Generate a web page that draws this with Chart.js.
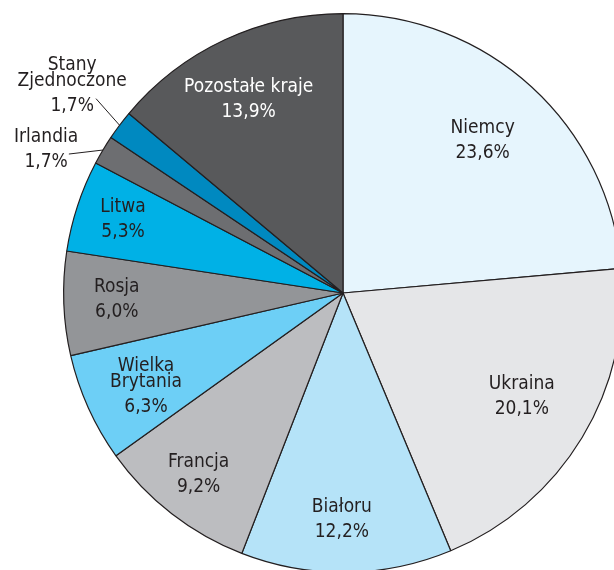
<!DOCTYPE html>
<html>
<head>
<meta charset="utf-8">
<script src="https://cdn.jsdelivr.net/npm/chart.js@4/dist/chart.umd.min.js"></script>
<style>
  html, body { margin: 0; padding: 0; background: #fff; overflow: hidden; }
  #wrap { position: absolute; left: 0; top: 0; width: 680px; height: 586px; }
</style>
</head>
<body>
<div id="wrap"><canvas id="pie" width="680" height="586"></canvas></div>
<script>
// ─── Data ─────────────────────────────────────────────────────────────────────
const countries = ["Niemcy", "Ukraina", "Białoru", "Francja", "Wielka Brytania",
                   "Rosja", "Litwa", "Irlandia", "Stany Zjednoczone", "Pozostałe kraje"];
const shares    = [23.6, 20.1, 12.2, 9.2, 6.3, 6.0, 5.3, 1.7, 1.7, 13.9];

// how each label is broken into lines
const labelLines = [["Niemcy"], ["Ukraina"], ["Białoru"], ["Francja"], ["Wielka", "Brytania"],
                    ["Rosja"], ["Litwa"], ["Irlandia"], ["Stany", "Zjednoczone"], ["Pozostałe kraje"]];

// ─── Styles ───────────────────────────────────────────────────────────────────
const colors = ["#e6f5fd", "#e5e6e8", "#b5e3f8", "#bcbdc0", "#6dcff6",
                "#939598", "#00b1e6", "#6d6e71", "#0089c0", "#58595b"];
const textColors = ["#231f20", "#231f20", "#231f20", "#231f20", "#231f20",
                    "#231f20", "#231f20", "#231f20", "#231f20", "#ffffff"];
// label distance (fraction of radius) and angle nudge (deg) from slice middle
const labelDist  = [0.74, 0.74, 0.81, 0.83, 0.78, 0.81, 0.83, 1.18, 1.22, 0.77];
const labelNudge = [0, -1, 1, 0.7, -1, 0.4, 0.3, -5, 0.5, -1];
// leader lines for the thin outside slices: [dist, nudge]
const leaders = { 7: [1.10, -3.9], 8: [1.125, 1.3] };

const FONT = '"Liberation Sans Narrow", "DejaVu Sans Condensed", "Open Sans", sans-serif';

const fmt = v => v.toFixed(1).replace(".", ",") + "%";

// ─── Label plugin ─────────────────────────────────────────────────────────────
const sliceLabels = {
  id: "sliceLabels",
  afterDatasetsDraw(chart) {
    const ctx = chart.ctx;
    const arcs = chart.getDatasetMeta(0).data;
    ctx.save();
    ctx.font = "19px " + FONT;
    ctx.textAlign = "center";
    ctx.textBaseline = "middle";
    arcs.forEach((arc, i) => {
      const { x, y, startAngle, endAngle, outerRadius } = arc.getProps(
        ["x", "y", "startAngle", "endAngle", "outerRadius"], true);
      const mid = (startAngle + endAngle) / 2;

      if (leaders[i]) {
        const [d, n] = leaders[i];
        const a2 = mid + n * Math.PI / 180;
        ctx.strokeStyle = "#231f20";
        ctx.lineWidth = 1;
        ctx.beginPath();
        ctx.moveTo(x + Math.cos(mid) * outerRadius, y + Math.sin(mid) * outerRadius);
        ctx.lineTo(x + Math.cos(a2) * outerRadius * d, y + Math.sin(a2) * outerRadius * d);
        ctx.stroke();
      }

      const a = mid + labelNudge[i] * Math.PI / 180;
      const lx = x + Math.cos(a) * outerRadius * labelDist[i];
      const ly = y + Math.sin(a) * outerRadius * labelDist[i];

      const lines = labelLines[i].concat([fmt(shares[i])]);
      const nameGap = 16, pctGap = 25;
      const total = (labelLines[i].length - 1) * nameGap + pctGap;
      let cy = ly - total / 2;
      ctx.fillStyle = textColors[i];
      lines.forEach((t, k) => {
        ctx.fillText(t, lx, cy);
        cy += (k < labelLines[i].length - 1) ? nameGap : pctGap;
      });
    });
    ctx.restore();
  }
};

// ─── Chart ────────────────────────────────────────────────────────────────────
new Chart(document.getElementById("pie"), {
  type: "pie",
  data: {
    labels: countries,
    datasets: [{
      data: shares,
      backgroundColor: colors,
      borderColor: "#231f20",
      borderWidth: 1.2
    }]
  },
  options: {
    responsive: false,
    animation: false,
    layout: { padding: { left: 63, right: 57, top: 13, bottom: 13 } },
    plugins: {
      legend: { display: false },
      tooltip: { enabled: false }
    }
  },
  plugins: [sliceLabels]
});
</script>
</body>
</html>
